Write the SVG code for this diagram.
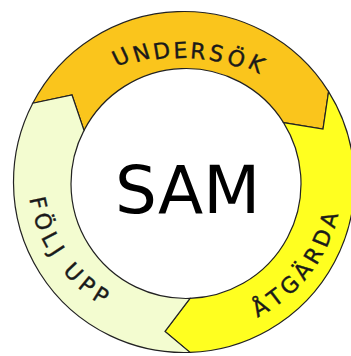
<svg xmlns="http://www.w3.org/2000/svg" width="351" height="356" viewBox="0 0 351 356">
  <style>
    .seg { stroke: #222; stroke-width: 1.2; stroke-linejoin: miter; }
    .lbl { font-family: "DejaVu Sans", Verdana, sans-serif; font-size: 22px; fill: #1a1a1a; stroke: #1a1a1a; stroke-width: 0.4; }
    .title { font-family: "DejaVu Sans", Verdana, sans-serif; font-size: 66px; fill: #000; }
  </style>
  <defs>
    <!-- baselines for the two lower ring labels (counter-clockwise, glyph tops face the centre) -->
    <path id="path-atgarda" d="M257.35,317.38 A153,153 0 0 0 332.77,128.17"/>
    <path id="path-folj" d="M29.5,198.65 A153,153 0 0 0 167.16,326.42"/>
  </defs>
  <rect width="351" height="356" fill="#fff"/>

  <g id="seg-undersok">
    <path class="seg" fill="#FAC51C" d="M32.76,103.27 A170.5,170.5 0 0 1 328.58,91.65 L323,129 L283.52,122.56 A115,115 0 0 0 83.99,130.40 L72,95 Z"/>
    <text class="lbl" x="116.85 135.73 154.49 173.78 189.81 208.08 225.42 246.57" y="67.36 62.82 59.8 58.26 58.23 59.6 62.84 66.94" rotate="-25.27 -17.48 -9.62 -2.21 4.8 12.18 20.07 28.23">UNDERSÖK</text>
  </g>

  <g id="seg-atgarda">
    <path class="seg" fill="#FFFF20" d="M328.58,91.65 A170.5,170.5 0 0 1 189.95,352.40 L165,331.5 L190.01,298.43 A115,115 0 0 0 283.52,122.56 L323,129 Z"/>
    <text class="lbl" letter-spacing="4.6"><textPath href="#path-atgarda">ÅTGÄRDA</textPath></text>
  </g>

  <g id="seg-folj-upp">
    <path class="seg" fill="#F3FCD0" d="M189.95,352.40 A170.5,170.5 0 0 1 32.76,103.27 L72,95 L83.99,130.40 A115,115 0 0 0 190.01,298.43 L165,331.5 Z"/>
    <text class="lbl" letter-spacing="5"><textPath href="#path-folj">FÖLJ UPP</textPath></text>
  </g>

  <g id="center-sam">
    <text class="title" x="187.5" y="213" text-anchor="middle">SAM</text>
  </g>

  <g id="connectors"/>
</svg>
